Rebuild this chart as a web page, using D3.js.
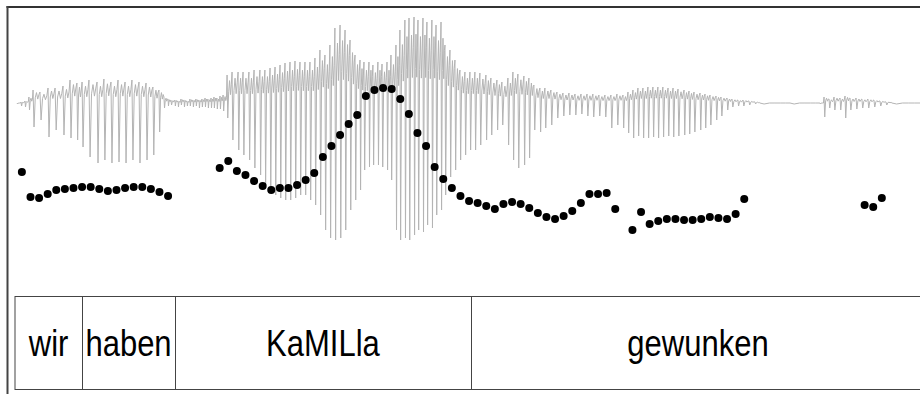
<!DOCTYPE html>
<html>
<head>
<meta charset="utf-8">
<script src="https://cdn.jsdelivr.net/npm/d3@7"></script>
<style>
  html, body { margin: 0; padding: 0; background: #fff; }
  svg { display: block; }
</style>
</head>
<body>
<svg id="chart" width="920" height="394"></svg>
<script>
// ---------------- DATA ----------------
// Waveform pulses: time (ms), upper peak, lower peak (amplitude units)
const waveTimes = [1.2,3.5,5.8,
  8.1,10.5,14.5,19.2,23.3,27.9,32.0,36.0,39.0,43.0,47.7,51.7,55.8,59.9,64.0,68.0,72.1,76.2,80.2,83.7,86.6,89.0,90.7,
  93.0,94.8,96.5,98.3,100.0,101.7,103.5,105.2,107.0,108.7,110.5,112.2,114.0,115.7,117.4,119.2,121.0,
  123.3,126.2,129.7,132.6,136.0,139.0,142.4,145.3,148.3,151.2,154.1,157.0,159.9,162.8,165.7,168.6,171.5,174.4,177.3,180.2,183.1,186.0,189.0,191.9,194.8,197.7,200.6,202.9,205.8,208.1,211.0,213.4,216.3,218.6,221.5,223.8,226.7,229.1,232.0,234.3,237.2,239.5,242.4,244.8,247.7,250.0,252.9,255.8,258.7,261.6,264.5,
  267.4,270.3,273.8,276.7,280.2,283.1,286.6,289.5,292.4,295.9,298.8,301.7,305.2,308.1,311.6,315.1,318.6,322.1,325.6,329.1,332.6,336.0,339.5,343.0,346.5,350.0,353.5,356.4,359.3,362.2,365.1,368.0,370.9,373.8,376.7,379.7,382.6,385.5,389.0,391.9,394.8,398.3,401.2,404.1,407.6,410.5,414.0,416.9,420.3,423.3,426.7,430.2,433.1,450.6,468.0,
  470.4,473.3,476.2,479.7,482.6,485.5,489.0,492.4,495.9,499.4,502.9,506.4,509.9,529.1];
const waveHi = [0,1,2,
  6,13,11,15,15,17,23,20,21,23,21,24,21,23,21,23,21,20,16,13,6,4,3,
  3,2,4,3,2,4,3,4,3,4,5,4,5,6,5,7,8,
  28,31,31,31,31,33,33,33,35,36,38,40,41,42,41,41,41,45,53,48,58,75,78,73,63,48,43,41,41,38,41,39,41,48,58,73,83,85,86,83,85,81,83,78,81,58,53,43,33,31,31,
  31,30,28,25,23,21,25,31,29,27,25,18,15,15,13,11,10,10,9,9,9,9,8,8,8,9,8,11,13,15,15,16,16,16,16,15,15,14,13,12,11,10,9,8,7,6,5,4,3,3,2,1,0,0,0,
  6,4,6,5,7,5,5,4,4,3,2,1,0,0];
const waveLo = [-1,-3,-4,
  -7,-24,-17,-34,-27,-32,-35,-37,-44,-54,-60,-57,-60,-59,-60,-57,-60,-57,-52,-29,-5,-3,-2,
  -3,-4,-2,-4,-3,-3,-4,-3,-5,-4,-4,-5,-5,-5,-6,-6,-8,
  -15,-37,-47,-52,-57,-65,-72,-82,-87,-92,-95,-97,-97,-95,-92,-92,-97,-102,-112,-127,-135,-137,-135,-127,-107,-97,-87,-67,-64,-62,-62,-64,-67,-77,-127,-137,-135,-137,-132,-127,-129,-122,-125,-112,-107,-92,-74,-67,-57,-52,-47,
  -47,-42,-37,-32,-27,-22,-42,-57,-65,-62,-55,-27,-29,-25,-22,-15,-13,-12,-12,-11,-13,-14,-13,-14,-25,-22,-25,-30,-35,-33,-35,-35,-34,-35,-34,-33,-34,-33,-32,-31,-29,-27,-25,-22,-17,-13,-7,-4,-3,-3,-2,-1,-1,-1,-1,
  -14,-5,-7,-7,-15,-7,-6,-5,-5,-4,-3,-2,-1,-1];

// Pitch track: first frame time (ms), frame step (ms), F0 values (Hz), null = unvoiced
const f0Start = 4;
const f0Step = 5;
const f0 = [228,203,202,206,210,211,212,213,213,211,209,210,212,213,213,211,208,204,
  null,null,null,null,null,
  232,239,229,225,219,214,210,212,212,215,220,227,243,254,265,276,285,304,310,312,311,301,286,267,254,233,221,212,204,199,197,194,191,196,198,196,192,187,183,181,184,189,197,206,206,207,191,
  null,
  170,188,176,179,181,181,180,180,181,183,182,181,186,201,
  null,null,null,null,null,null,null,null,null,null,null,null,null,
  195,193,202];

// Word tier: labels and boundaries (ms)
const words = ["wir", "haben", "KaMILla", "gewunken"];
const wordBounds = [0, 39.0, 93.0, 265.1, 529.1];

// ---------------- LAYOUT ----------------
const svg = d3.select("#chart");
const tMax = 529.1;
const x = d3.scaleLinear().domain([0, tMax]).range([15, 925]);
const yWave = d3.scaleLinear().domain([-100, 100]).range([203, 3]);
const yF0 = d3.scaleLinear().domain([150, 350]).range([250, 50]);

// frame
svg.append("line").attr("x1", 6.5).attr("x2", 920).attr("y1", 7).attr("y2", 7)
  .attr("stroke", "#333").attr("stroke-width", 2);
svg.append("line").attr("x1", 7.5).attr("x2", 7.5).attr("y1", 6).attr("y2", 394)
  .attr("stroke", "#444").attr("stroke-width", 2);

// waveform
const pts = [];
waveTimes.forEach((t, k) => {
  const next = k < waveTimes.length - 1 ? waveTimes[k + 1] : t + 4;
  const P = next - t;
  const hi = waveHi[k], lo = waveLo[k];
  pts.push([t, hi]);
  pts.push([t + 0.14 * P, lo]);
  pts.push([t + 0.32 * P, hi * 0.4]);
  pts.push([t + 0.5 * P, hi * 0.8]);
  pts.push([t + 0.68 * P, hi * 0.3]);
  pts.push([t + 0.85 * P, hi * 0.65]);
});
svg.append("path")
  .datum(pts)
  .attr("fill", "none")
  .attr("stroke", "#b4b4b4")
  .attr("stroke-width", 1)
  .attr("d", d3.line().x(d => x(d[0])).y(d => yWave(d[1])));

// pitch dots
const f0Data = f0.map((v, i) => ({ t: f0Start + i * f0Step, v })).filter(d => d.v !== null);
svg.append("g").selectAll("circle").data(f0Data).join("circle")
  .attr("cx", d => x(d.t))
  .attr("cy", d => yF0(d.v))
  .attr("r", 4)
  .attr("fill", "#000");

// word tier
const tierTop = 296.5, tierBot = 389.5;
const tier = svg.append("g");
tier.append("rect")
  .attr("x", x(wordBounds[0])).attr("y", tierTop)
  .attr("width", x(wordBounds[wordBounds.length - 1]) - x(wordBounds[0]))
  .attr("height", tierBot - tierTop)
  .attr("fill", "none").attr("stroke", "#444").attr("stroke-width", 1);
tier.selectAll("line.b").data(wordBounds.slice(1, -1)).join("line")
  .attr("class", "b")
  .attr("x1", d => Math.round(x(d)) + 0.5).attr("x2", d => Math.round(x(d)) + 0.5)
  .attr("y1", tierTop).attr("y2", tierBot)
  .attr("stroke", "#444").attr("stroke-width", 1);
tier.selectAll("text").data(words).join("text")
  .attr("transform", (d, i) => `translate(${(x(wordBounds[i]) + x(wordBounds[i + 1])) / 2},356) scale(1,1.2)`)
  .attr("text-anchor", "middle")
  .attr("font-family", "Liberation Sans, Arial, sans-serif")
  .attr("font-size", 31)
  .attr("fill", "#000")
  .text(d => d);
</script>
</body>
</html>
